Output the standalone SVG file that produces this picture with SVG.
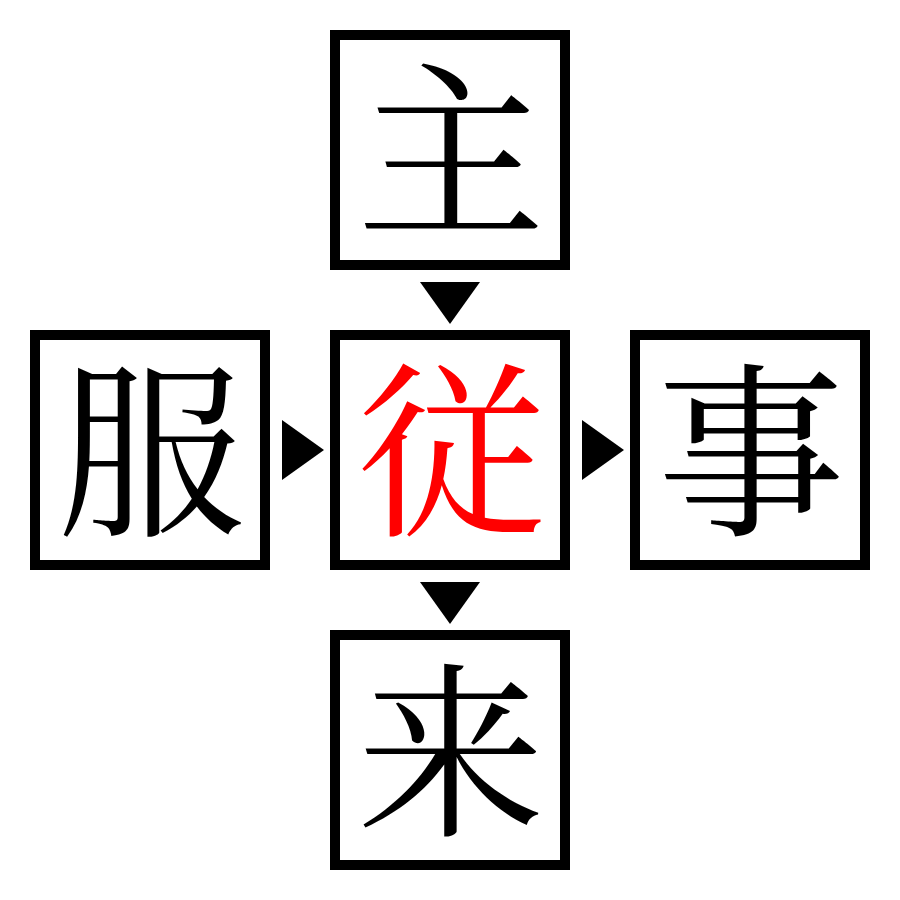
<svg xmlns="http://www.w3.org/2000/svg" width="900" height="900" viewBox="0 0 900 900">
<style>
.box{fill:#fff;stroke:#000;stroke-width:10}
.ch{font-family:"Noto Serif CJK JP","Noto Sans CJK JP",serif;font-size:188px;text-anchor:middle;fill:#000}
.red{fill:#ff0000}
.arr{fill:#000}
</style>
<rect width="900" height="900" fill="#fff"/>
<g id="top"><rect class="box" x="335" y="35" width="230" height="230"/><text class="ch" x="451" y="221">主</text></g>
<g id="left"><rect class="box" x="35" y="335" width="230" height="230"/><text class="ch" x="151" y="521">服</text></g>
<g id="center"><rect class="box" x="335" y="335" width="230" height="230"/><text class="ch red" x="451" y="521">従</text></g>
<g id="right"><rect class="box" x="635" y="335" width="230" height="230"/><text class="ch" x="751" y="521">事</text></g>
<g id="bottom"><rect class="box" x="335" y="635" width="230" height="230"/><text class="ch" x="451" y="821">来</text></g>
<g id="connectors">
<polygon class="arr" points="420,282 480,282 450,324"/>
<polygon class="arr" points="282,420 282,480 324,450"/>
<polygon class="arr" points="582,420 582,480 624,450"/>
<polygon class="arr" points="420,582 480,582 450,624"/>
</g>
</svg>
